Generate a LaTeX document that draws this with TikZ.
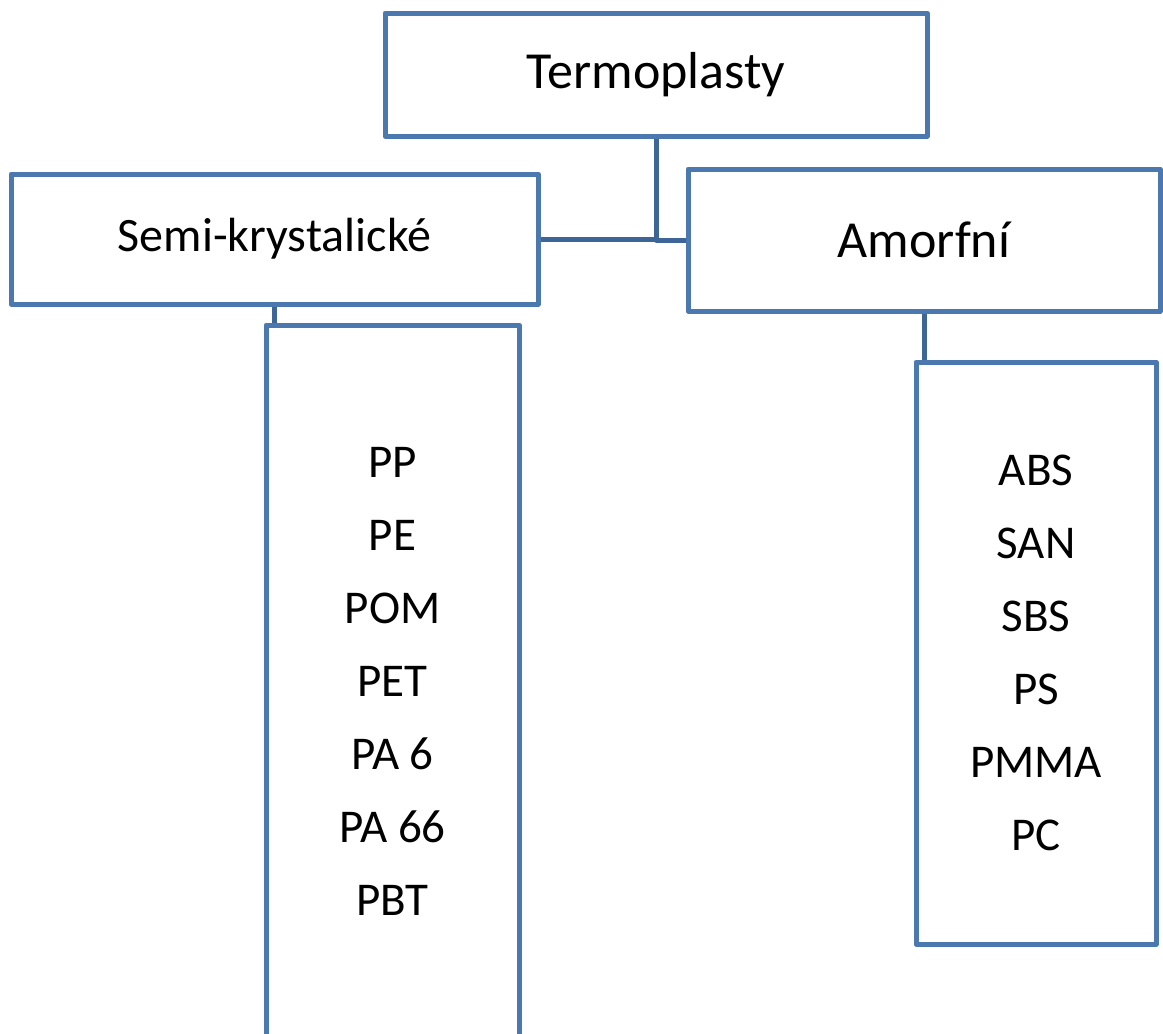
\documentclass[tikz,border=0pt]{standalone}
\usepackage{fontspec}
\setmainfont{Carlito}
\usepackage{xcolor}
\usepackage{tikz}
\usetikzlibrary{positioning}

\definecolor{boxblue}{RGB}{74,120,175}
\definecolor{linkblue}{RGB}{62,101,151}

\begin{document}
\begin{tikzpicture}[x=1pt,y=-1pt]
						\tikzstyle{box}=[rectangle,draw=boxblue,line width=5pt,line join=round,fill=white,inner sep=0pt]
						\tikzstyle{link}=[draw=linkblue,line width=5pt,line join=round]
						\useasboundingbox (0,0) rectangle (1163,1034);
						\node[box,minimum width=542pt,minimum height=123pt,font=\fontsize{52}{62}\selectfont](term) at (656,74.5) {Termoplasty};
						\node[box,minimum width=527pt,minimum height=130pt,font=\fontsize{48}{56}\selectfont](semi) at (274.5,239) {Semi-krystalické};
						\node[box,minimum width=472pt,minimum height=142pt,font=\fontsize{52}{62}\selectfont](amorf) at (924,240) {Amorfní};
						\node[box,minimum width=253pt,minimum height=712pt,align=center,font=\fontsize{47}{73}\selectfont](semilist) at (392.5,681) {PP\\PE\\POM\\PET\\PA 6\\PA 66\\PBT};
						\node[box,minimum width=240pt,minimum height=582pt,align=center,font=\fontsize{47}{73}\selectfont](amorflist) at (1036,653) {ABS\\SAN\\SBS\\PS\\PMMA\\PC};
						\draw[link](semi.east) -- (term.south |- semi.east);
						\draw[link](term.south) |- (amorf.west);
						\draw[link](semi.south) -- (semi.south |- semilist.north);
						\draw[link](amorf.south) -- (amorf.south |- amorflist.north);
					\end{tikzpicture}
\end{document}
